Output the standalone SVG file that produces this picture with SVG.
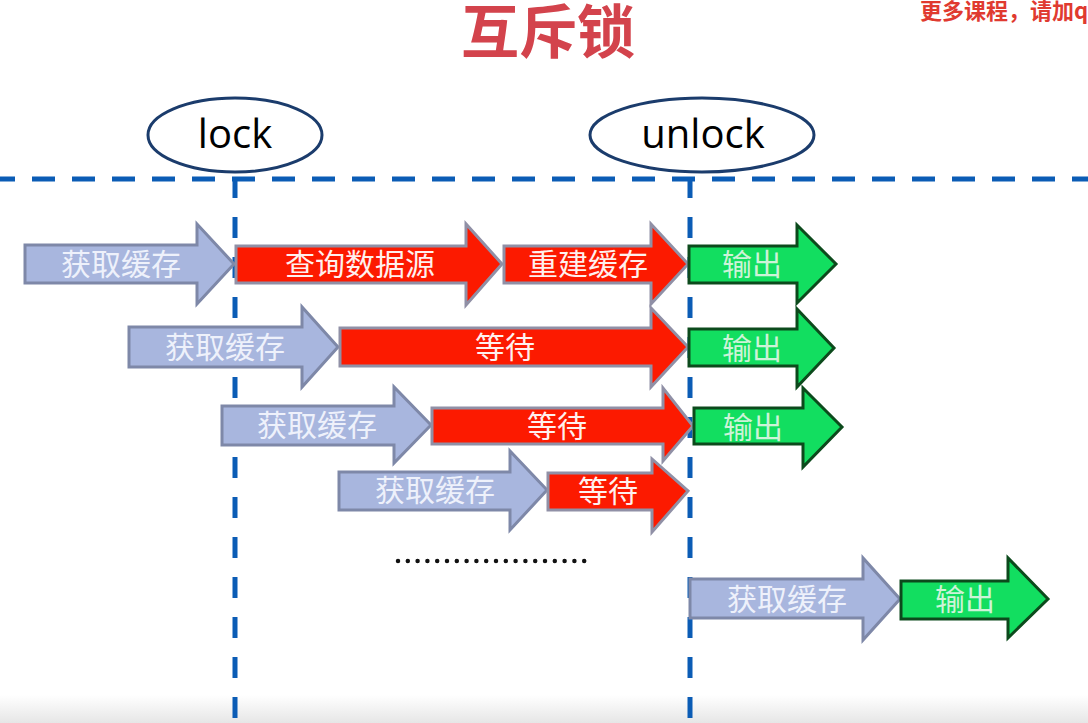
<svg xmlns="http://www.w3.org/2000/svg" width="1088" height="723" viewBox="0 0 1088 723">
<defs>
<style>
.cjk{font-family:"Noto Sans CJK SC","Noto Sans",sans-serif;}
.lbl{font-family:"Noto Sans CJK SC","Noto Sans",sans-serif;font-size:30px;text-anchor:middle;}
.blue{fill:#a8b6de;stroke:#7e88a8;stroke-width:3;stroke-linejoin:miter;}
.red{fill:#fc1a00;stroke:#9090a6;stroke-width:3;}
.green{fill:#12de60;stroke:#0c4a1c;stroke-width:3;}
.tb{fill:#eef1fb;}
.tr{fill:#fff0ee;}
.tg{fill:#cdf3d8;}
.vline{stroke:#0b5cb5;stroke-width:5;stroke-dasharray:21 19;fill:none;}
.oval{fill:#ffffff;stroke:#1b3c6c;stroke-width:3;}
.ovt{font-family:"Open Sans","Liberation Sans",sans-serif;font-size:40px;fill:#000;text-anchor:middle;}
</style>
<linearGradient id="bot" x1="0" y1="0" x2="0" y2="1">
<stop offset="0" stop-color="#ffffff"/>
<stop offset="1" stop-color="#e6e6e6"/>
</linearGradient>
</defs>
<rect width="1088" height="723" fill="#ffffff"/>
<rect x="0" y="695" width="1088" height="28" fill="url(#bot)"/>

<g id="title">
<text x="548" y="53" class="cjk" font-size="58" font-weight="bold" fill="#d3434c" text-anchor="middle">互斥锁</text>
</g>
<g id="watermark">
<text x="920" y="19" class="cjk" font-size="22" font-weight="bold" fill="#e03a30">更多课程，请加q</text>
</g>

<g id="connectors">
<line x1="0" y1="179" x2="1088" y2="179" stroke="#0b5cb5" stroke-width="5" stroke-dasharray="23 17" stroke-dashoffset="8"/>
<line class="vline" x1="235" y1="177" x2="235" y2="723"/>
<line class="vline" x1="690" y1="177" x2="690" y2="723"/>
<line x1="398" y1="561" x2="588" y2="561" stroke="#111" stroke-width="4.5" stroke-linecap="round" stroke-dasharray="0 9.8"/>
</g>

<g id="lock">
<ellipse class="oval" cx="235" cy="135" rx="87" ry="37"/>
<text class="ovt" x="235" y="148">lock</text>
</g>
<g id="unlock">
<ellipse class="oval" cx="702" cy="135" rx="112" ry="37"/>
<text class="ovt" x="703" y="148">unlock</text>
</g>

<!-- Row 1 -->
<g id="r1-get">
<path class="blue" d="M25,245 H197 V224 L234,264 L197,304 V283 H25 Z"/>
<text class="lbl tb" x="121" y="275">获取缓存</text>
</g>
<g id="r1-query">
<path class="red" d="M236,246 H466 V224 L502,264 L466,305 V283 H236 Z"/>
<text class="lbl tr" x="360" y="275">查询数据源</text>
</g>
<g id="r1-rebuild">
<path class="red" d="M504,246 H651 V224 L688,264 L651,304 V283 H504 Z"/>
<text class="lbl tr" x="588" y="275">重建缓存</text>
</g>
<g id="r1-out">
<path class="green" d="M689,246 H797 V225 L836,264 L797,303 V283 H689 Z"/>
<text class="lbl tg" x="752" y="275">输出</text>
</g>

<!-- Row 2 -->
<g id="r2-get">
<path class="blue" d="M129,327 H302 V307 L338,347 L302,387 V367 H129 Z"/>
<text class="lbl tb" x="225" y="358">获取缓存</text>
</g>
<g id="r2-wait">
<path class="red" d="M340,328 H651 V308 L688,347 L651,387 V366 H340 Z"/>
<text class="lbl tr" x="505" y="358">等待</text>
</g>
<g id="r2-out">
<path class="green" d="M689,329 H797 V309 L834,348 L797,387 V366 H689 Z"/>
<text class="lbl tg" x="752" y="359">输出</text>
</g>

<!-- Row 3 -->
<g id="r3-get">
<path class="blue" d="M222,406 H394 V387 L431,425 L394,463 V445 H222 Z"/>
<text class="lbl tb" x="317" y="436">获取缓存</text>
</g>
<g id="r3-wait">
<path class="red" d="M432,408 H663 V388 L693,426 L663,461 V444 H432 Z"/>
<text class="lbl tr" x="557" y="437">等待</text>
</g>
<g id="r3-out">
<path class="green" d="M694,408 H803 V388 L842,427 L803,467 V444 H694 Z"/>
<text class="lbl tg" x="753" y="438">输出</text>
</g>

<!-- Row 4 -->
<g id="r4-get">
<path class="blue" d="M339,472 H510 V451 L547,490 L510,530 V510 H339 Z"/>
<text class="lbl tb" x="435" y="501">获取缓存</text>
</g>
<g id="r4-wait">
<path class="red" d="M548,473 H652 V459 L688,491 L652,532 V510 H548 Z"/>
<text class="lbl tr" x="608" y="502">等待</text>
</g>

<!-- Row 5 -->
<g id="r5-get">
<path class="blue" d="M690,579 H863 V558 L900,599 L863,640 V618 H690 Z"/>
<text class="lbl tb" x="787" y="610">获取缓存</text>
</g>
<g id="r5-out">
<path class="green" d="M901,581 H1008 V558 L1048,599 L1008,638 V619 H901 Z"/>
<text class="lbl tg" x="965" y="610">输出</text>
</g>
</svg>
